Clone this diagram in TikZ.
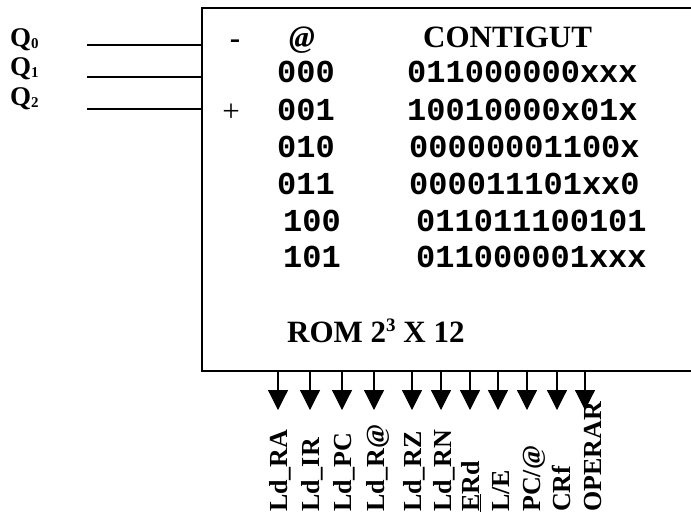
\documentclass[tikz,border=0pt]{standalone}
\usepackage{fontspec}
\setmainfont{Liberation Serif}
\setmonofont{Liberation Mono}
\usepackage{tikz}
\usetikzlibrary{arrows.meta}

\begin{document}
\begin{tikzpicture}[x=1pt,y=-1pt,
		inlbl/.style={font=\fontsize{27}{30}\selectfont\bfseries,inner sep=0,anchor=base west},
		hdr/.style={font=\fontsize{31}{36}\selectfont\bfseries,inner sep=0,anchor=base west},
		code/.style={font=\fontsize{32}{36}\selectfont\ttfamily\bfseries,inner sep=0,anchor=base west},
		sgn/.style={font=\fontsize{31}{36}\selectfont,inner sep=0},
		sig/.style={font=\fontsize{26}{30}\selectfont\bfseries,inner sep=0,rotate=90,anchor=west,text height=18pt,text depth=0pt},
		wire/.style={line width=1.2pt},
		outarr/.style={line width=1.2pt,-{Triangle[width=20pt,length=20pt]}}]
	\useasboundingbox (0,0) rectangle (691,515);
	% ROM box, open at the right
	\coordinate (nw) at (202,8);
	\coordinate (sw) at (202,371);
	\draw[line width=1.6pt] (700,8) -- (nw) -- (sw) -- (700,371);
	% inputs
	\foreach \i/\y/\b in {0/45/46,1/77/75,2/109/105} {
		\node[inlbl] (q\i) at (10,\b) {Q\raisebox{-2pt}{\fontsize{15}{18}\selectfont\i}};
		\coordinate (a\i) at (87,\y);
		\draw[wire] (a\i) -- (a\i -| nw);
	}
	\node[sgn,font=\fontsize{31}{36}\selectfont\bfseries] (minus) at (235,44) {-};
	\node[sgn] (plus) at (231,113) {+};
	% contents
	\node[hdr,font=\fontsize{31}{36}\selectfont\bfseries\itshape] (at) at (289,47) {@};
	\node[hdr] (contigut) at (423,47) {CONTIGUT};
	\foreach \ax/\dx/\b/\adr/\dat in {277/407/82/000/011000000xxx,
			277/407/120/001/10010000x01x,
			277/409/157/010/00000001100x,
			277/409/194/011/000011101xx0,
			283/416/231/100/011011100101,
			283/416/267/101/011000001xxx} {
		\node[code] (adr\adr) at (\ax,\b) {\adr};
		\node[code] (dat\adr) at (\dx,\b) {\dat};
	}
	\node[hdr] (rom) at (287,342) {ROM 2\raisebox{11pt}{\fontsize{19}{20}\selectfont 3} X 12};
	% outputs
	\foreach \n/\ax/\lx/\txt in {1/278/278/Ld\_RA,2/310/310/Ld\_IR,3/342/342/Ld\_PC,
			4/374/375/Ld\_R@,5/412/412/Ld\_RZ,6/441/442/Ld\_RN,
			7/470/470/\underline{E}Rd,8/498/500/{L/E},9/527/531/{PC/@},
			10/557/561/CRf,11/585/592/OPERAR} {
		\coordinate (o\n) at (\ax,410);
		\draw[outarr] (o\n |- sw) -- (o\n);
		\node[sig] (s\n) at (\lx,512) {\txt};
	}
\end{tikzpicture}
\end{document}
